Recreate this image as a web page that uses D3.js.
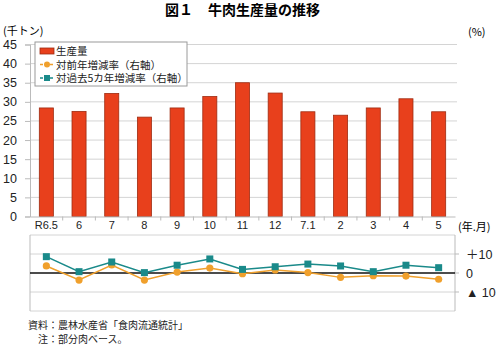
<!DOCTYPE html>
<html>
<head>
<meta charset="utf-8">
<script src="https://cdn.jsdelivr.net/npm/d3@7/dist/d3.min.js"></script>
<style>
  html, body { margin: 0; padding: 0; background: #fff; }
  svg { display: block; font-family: "Liberation Sans", Arial, "Noto Sans CJK JP", sans-serif; }
</style>
</head>
<body>
<svg id="chart" width="500" height="345"></svg>
<script>
// Monthly beef production (thousand tonnes) and growth rates (%)
const months = ["R6.5", "6", "7", "8", "9", "10", "11", "12", "7.1", "2", "3", "4", "5"];
const production = [28.4, 27.5, 32.2, 26.0, 28.4, 31.4, 35.0, 32.3, 27.4, 26.5, 28.4, 30.8, 27.4];
const yoyRate = [3.7, -3.7, 4.2, -3.7, 0.5, 2.6, -0.4, 1.6, 0.2, -2.3, -1.4, -1.6, -3.3];
const fiveYearRate = [8.6, 0.7, 5.8, 0.2, 4.1, 7.4, 1.9, 3.3, 4.7, 3.7, 0.7, 4.1, 2.8];
const leftTicks = [0, 5, 10, 15, 20, 25, 30, 35, 40, 45];
const rightTicks = [10, 0, -10];
const rightTickLabels = ["＋10", "0", "▲ 10"];
const seriesNames = ["生産量", "対前年増減率（右軸）", "対過去5カ年増減率（右軸）"];

const barFill = "#E8401C", barStroke = "#9E2C12";
const yoyColor = "#F0A02C", fiveColor = "#1A8A8A";
const gridColor = "#d4d4d4", axisColor = "#bbbbbb";
const cjk = "'Noto Sans CJK JP', sans-serif";
const latin = "'Liberation Sans', Arial, sans-serif";

const svg = d3.select("#chart");
const left = 30, right = 455;

const x = d3.scaleBand().domain(months).range([left, right]).padding(0);
const yTop = d3.scaleLinear().domain([0, 45]).range([216.5, 44.5]);
const yBot = d3.scaleLinear().domain([-20, 20]).range([311, 235]);

// Title
svg.append("text").attr("x", 165).attr("y", 15).attr("font-size", 14).attr("font-weight", "bold")
  .attr("font-family", cjk).text("図１");
svg.append("text").attr("x", 208).attr("y", 15).attr("font-size", 14).attr("font-weight", "bold")
  .attr("font-family", cjk).text("牛肉生産量の推移");

// Unit labels
svg.append("text").attr("x", 3).attr("y", 35).attr("font-size", 11)
  .attr("font-family", cjk).text("(千トン)");
svg.append("text").attr("x", 468).attr("y", 36).attr("font-size", 11)
  .attr("font-family", cjk).text("(%)");

// Top panel gridlines
svg.append("g").selectAll("line").data(leftTicks.filter(d => d > 0)).join("line")
  .attr("x1", left).attr("x2", right + 2)
  .attr("y1", d => yTop(d)).attr("y2", d => yTop(d))
  .attr("stroke", gridColor).attr("stroke-width", 1);

// Left axis
const leftAxis = d3.axisLeft(yTop).tickValues(leftTicks).tickSize(5).tickPadding(8);
const gl = svg.append("g").attr("transform", `translate(${left},0)`).call(leftAxis);
gl.select(".domain").attr("stroke", axisColor);
gl.selectAll(".tick line").attr("stroke", axisColor);
gl.selectAll(".tick text").attr("font-size", 12.5).attr("fill", "#222").attr("font-family", latin);

// Bars
svg.append("g").selectAll("rect").data(production).join("rect")
  .attr("x", (d, i) => x(months[i]) + x.bandwidth() * 0.285)
  .attr("width", x.bandwidth() * 0.43)
  .attr("y", d => yTop(d))
  .attr("height", d => yTop(0) - yTop(d))
  .attr("fill", barFill).attr("stroke", barStroke).attr("stroke-width", 0.8);

// Baseline of top panel with category separators
const xAxis = d3.axisBottom(x).tickSize(0).tickPadding(5);
const gx = svg.append("g").attr("transform", `translate(0,${yTop(0)})`).call(xAxis);
gx.select(".domain").attr("stroke", axisColor);
gx.selectAll(".tick text").attr("font-size", 11).attr("fill", "#222").attr("font-family", latin);
svg.append("g").selectAll("line").data(months.slice(1)).join("line")
  .attr("x1", d => x(d)).attr("x2", d => x(d))
  .attr("y1", yTop(0)).attr("y2", yTop(0) + 4)
  .attr("stroke", axisColor);
svg.append("text").attr("x", 458).attr("y", 231).attr("font-size", 11)
  .attr("font-family", cjk).text("(年.月)");

// Bottom panel gridlines
svg.append("g").selectAll("line").data([20, 10, -10, -20]).join("line")
  .attr("x1", left).attr("x2", right)
  .attr("y1", d => yBot(d)).attr("y2", d => yBot(d))
  .attr("stroke", gridColor);
svg.append("line").attr("x1", left).attr("x2", left).attr("y1", yBot(20)).attr("y2", yBot(-20)).attr("stroke", axisColor);
svg.append("line").attr("x1", right).attr("x2", right).attr("y1", yBot(20)).attr("y2", yBot(-20)).attr("stroke", axisColor);
svg.append("g").selectAll("line").data(rightTicks).join("line")
  .attr("x1", right).attr("x2", right + 4)
  .attr("y1", d => yBot(d)).attr("y2", d => yBot(d)).attr("stroke", axisColor);
svg.append("line").attr("x1", left).attr("x2", right).attr("y1", yBot(0)).attr("y2", yBot(0))
  .attr("stroke", "#111").attr("stroke-width", 1.5);

// Right axis labels
svg.append("g").selectAll("text").data(rightTicks).join("text")
  .attr("x", 466).attr("y", d => yBot(d) + 4.5)
  .attr("font-size", 12.5).attr("fill", "#222")
  .attr("font-family", "'Liberation Sans', Arial, 'Noto Sans CJK JP', sans-serif")
  .text((d, i) => rightTickLabels[i]);

// Rate lines
const cx = i => x(months[i]) + x.bandwidth() / 2;
const lineGen = d3.line().x((d, i) => cx(i)).y(d => yBot(d));
svg.append("path").datum(yoyRate).attr("d", lineGen)
  .attr("fill", "none").attr("stroke", yoyColor).attr("stroke-width", 1.5);
svg.append("g").selectAll("circle").data(yoyRate).join("circle")
  .attr("cx", (d, i) => cx(i)).attr("cy", d => yBot(d)).attr("r", 3.6).attr("fill", yoyColor);
svg.append("path").datum(fiveYearRate).attr("d", lineGen)
  .attr("fill", "none").attr("stroke", fiveColor).attr("stroke-width", 1.5);
svg.append("g").selectAll("rect").data(fiveYearRate).join("rect")
  .attr("x", (d, i) => cx(i) - 3.5).attr("y", d => yBot(d) - 3.5)
  .attr("width", 7).attr("height", 7).attr("fill", fiveColor);

// Legend
const lg = svg.append("g");
lg.append("rect").attr("x", 35).attr("y", 42).attr("width", 152).attr("height", 44)
  .attr("fill", "#fff").attr("stroke", "#9a9a9a").attr("stroke-width", 1);
const rows = [51, 64.5, 78];
lg.append("rect").attr("x", 40).attr("y", rows[0] - 3).attr("width", 14).attr("height", 6)
  .attr("fill", barFill).attr("stroke", barStroke).attr("stroke-width", 0.8);
lg.append("line").attr("x1", 40).attr("x2", 54).attr("y1", rows[1]).attr("y2", rows[1])
  .attr("stroke", yoyColor).attr("stroke-width", 1.5).attr("stroke-dasharray", "3,2");
lg.append("circle").attr("cx", 47).attr("cy", rows[1]).attr("r", 3).attr("fill", yoyColor);
lg.append("line").attr("x1", 40).attr("x2", 54).attr("y1", rows[2]).attr("y2", rows[2])
  .attr("stroke", fiveColor).attr("stroke-width", 1.5).attr("stroke-dasharray", "3,2");
lg.append("rect").attr("x", 44).attr("y", rows[2] - 3).attr("width", 6).attr("height", 6).attr("fill", fiveColor);
lg.selectAll("text.leg").data(seriesNames).join("text").attr("class", "leg")
  .attr("x", 56).attr("y", (d, i) => rows[i] + 4)
  .attr("font-size", 10.5).attr("fill", "#222")
  .attr("font-family", cjk)
  .text(d => d);

// Source notes
svg.append("text").attr("x", 28).attr("y", 328.5).attr("font-size", 10).attr("fill", "#222")
  .attr("font-family", cjk).text("資料：農林水産省「食肉流通統計」");
svg.append("text").attr("x", 38).attr("y", 343).attr("font-size", 10).attr("fill", "#222")
  .attr("font-family", cjk).text("注：部分肉ベース。");
</script>
</body>
</html>
